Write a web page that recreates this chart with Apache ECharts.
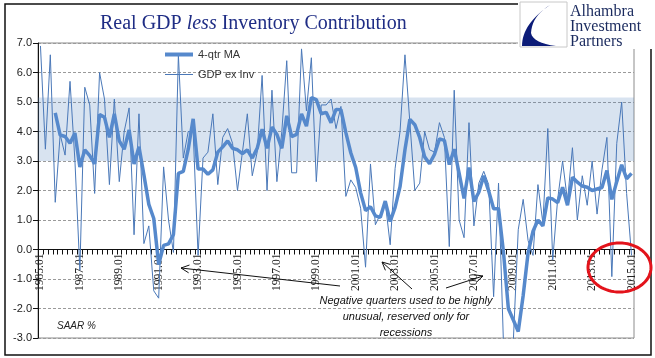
<!DOCTYPE html>
<html><head><meta charset="utf-8">
<script src="https://cdn.jsdelivr.net/npm/echarts@6/dist/echarts.min.js"></script>
<style>html,body{margin:0;padding:0;background:#fff}#c{width:655px;height:358px}</style>
</head><body><div id="c"></div>
<script>
// Quarterly categories 1985.01 ... 2015.01
const categories = [];
for (let y = 1985; y <= 2015; y++) {
  for (const m of ['01', '04', '07', '10']) {
    if (y === 2015 && m !== '01') break;
    categories.push(y + '.' + m);
  }
}
const gdpExInv = [
  6.9, 3.4, 6.6, 1.6, 3.9, 3.2, 5.7, 3.0, -0.7, 5.5,
  4.9, 1.9, 6.0, 5.1, 2.2, 5.1, 2.3, 4.0, 4.8, 0.5,
  4.6, 0.2, 0.8, -1.4, -1.65, 2.8, 1.0, -0.1, 6.6, 3.1,
  4.0, 4.0, -0.2, 3.1, 3.3, 4.6, 2.2, 3.8, 4.1, 3.6,
  2.0, 3.3, 4.6, 2.5, 3.3, 5.9, 2.0, 5.4, 2.3, 4.0,
  6.4, 2.6, 2.6, 6.8, 4.7, 6.5, 2.3, 4.9, 4.9, 5.1,
  4.1, 4.85, 1.8, 2.36, 2.1, 1.4, -0.6, 2.9, 0.84, 1.2,
  1.6, 0.16, 2.75, 4.0, 6.6, 4.3, 2.0, 2.25, 4.0, 3.38,
  3.3, 4.3, 3.8, 0.1, 5.4, 1.0, 0.4, 4.3, 0.8, 2.25,
  2.65, 2.2, -1.6, 2.25, -3.2, -5.5, -3.1, 0.67, 1.7, 0.3,
  -0.2, 2.2, 0.9, 4.1, -0.35, 1.7, 3.0, 1.65, 3.45, 1.0,
  2.5, 1.5, 3.0, 1.2, 2.7, 3.8, -0.92, 3.6, 5.0, 1.9,
  -0.2
];
const ma4qtr = [
  null, null, null, 4.63, 3.88, 3.83, 3.6, 3.95, 2.8, 3.38,
  3.18, 2.9, 4.58, 4.48, 3.8, 4.6, 3.68, 3.4, 4.05, 2.9,
  3.48, 2.53, 1.53, 1.05, -0.51, 0.14, 0.19, 0.51, 2.58, 2.65,
  3.4, 4.43, 2.73, 2.73, 2.55, 2.7, 3.3, 3.48, 3.68, 3.43,
  3.38, 3.25, 3.38, 3.1, 3.43, 4.08, 3.43, 4.15, 3.9, 3.43,
  4.53, 3.83, 3.9, 4.6, 4.18, 5.15, 5.08, 4.6, 4.65, 4.3,
  4.75, 4.74, 3.96, 3.28, 2.78, 1.92, 1.32, 1.45, 1.14, 1.09,
  1.64, 0.95, 1.43, 2.13, 3.38, 4.41, 4.23, 3.79, 3.14, 2.91,
  3.23, 3.75, 3.7, 2.88, 3.4, 2.58, 1.73, 2.78, 1.63, 1.94,
  2.5, 1.98, 1.38, 1.38, -0.09, -2.01, -2.39, -2.78, -1.56, -0.11,
  0.62, 1.0, 0.8, 1.75, 1.71, 1.59, 2.11, 1.5, 2.45, 2.28,
  2.15, 2.11, 2.0, 2.05, 2.1, 2.68, 1.7, 2.3, 2.87, 2.4,
  2.58
];
const bandRange = [3.0, 5.15];
const yMin = -3, yMax = 7, yStep = 1;
const noteLines = ['Negative quarters used to be highly', 'unusual, reserved only for', 'recessions'];

function arrow(x1, y1, x2, y2) {
  const a = Math.atan2(y2 - y1, x2 - x1), L = 9, s = 0.45;
  return [
    { type: 'line', z: 60, shape: { x1, y1, x2, y2 }, style: { stroke: '#111', lineWidth: 1 } },
    { type: 'polyline', z: 60, shape: { points: [
      [x2 - L * Math.cos(a - s), y2 - L * Math.sin(a - s)], [x2, y2],
      [x2 - L * Math.cos(a + s), y2 - L * Math.sin(a + s)]] },
      style: { stroke: '#111', lineWidth: 1, fill: null } }
  ];
}
function ellipsePts(cx, cy, rx, ry) {
  const p = [];
  for (let k = 0; k < 72; k++) { const t = k / 72 * Math.PI * 2; p.push([cx + rx * Math.cos(t), cy + ry * Math.sin(t)]); }
  return p;
}
function quad(p0, c, p1, n) {
  const out = [];
  for (let k = 0; k <= n; k++) {
    const t = k / n, u = 1 - t;
    out.push([u * u * p0[0] + 2 * u * t * c[0] + t * t * p1[0], u * u * p0[1] + 2 * u * t * c[1] + t * t * p1[1]]);
  }
  return out;
}
const swoosh = [].concat(
  quad([550, 5], [522, 24], [522, 46], 16),
  [[556, 46]],
  quad([556, 46], [533, 43], [531, 33], 8),
  quad([531, 33], [532, 16], [550, 5], 10)
);

const gridTop = 43, gridBottom = 20, H = 358;
const plotH = H - gridTop - gridBottom;
const zeroOffset = -plotH * (0 - yMin) / (yMax - yMin);

const chart = echarts.init(document.getElementById('c'));
const serif = "'Liberation Serif', 'Times New Roman', serif";
const sans = "'Liberation Sans', Arial, sans-serif";
const legendText = { fontFamily: sans, fontSize: 11, color: '#333' };
chart.setOption({
  animation: false,
  backgroundColor: '#fff',
  title: {
    text: '{a|Real GDP }{b|less}{a| Inventory Contribution}',
    left: 95, top: 9,
    textStyle: { fontWeight: 'normal', rich: {
      a: { fontFamily: serif, fontSize: 20, color: '#1f2d85', fontWeight: 'normal' },
      b: { fontFamily: serif, fontSize: 20, color: '#1f2d85', fontStyle: 'italic', fontWeight: 'normal' }
    } }
  },
  legend: [
    { left: 160, top: 44, itemWidth: 28, itemHeight: 4, itemGap: 5, icon: 'rect', textStyle: legendText, data: ['4-qtr MA'] },
    { left: 160, top: 64, itemWidth: 28, itemHeight: 1, itemGap: 5, icon: 'rect', textStyle: legendText, data: ['GDP ex Inv'] }
  ],
  grid: { left: 38, right: 21, top: gridTop, bottom: gridBottom, containLabel: false, outerBoundsMode: 'none',
    show: true, borderColor: '#8c8c8c', borderWidth: 1, backgroundColor: 'transparent' },
  xAxis: {
    type: 'category', data: categories, boundaryGap: true, position: 'bottom', offset: zeroOffset,
    axisLine: { onZero: false, lineStyle: { color: '#111', width: 1 } },
    axisTick: { show: true, interval: 0, length: 5, lineStyle: { color: '#111' } },
    axisLabel: { interval: 7, rotate: 90, margin: 4, fontFamily: serif, fontSize: 11.5, color: '#222' },
    splitLine: { show: false }
  },
  yAxis: {
    type: 'value', min: yMin, max: yMax, interval: yStep,
    axisLine: { show: true, lineStyle: { color: '#111' } },
    axisTick: { show: true, length: 5, lineStyle: { color: '#111' } },
    axisLabel: { formatter: v => v.toFixed(1), fontFamily: sans, fontSize: 11, color: '#222', margin: 6 },
    splitLine: { show: true, lineStyle: { color: '#9a9a9a', type: [3, 2], width: 1 } }
  },
  series: [
    {
      name: 'GDP ex Inv', type: 'line', data: gdpExInv, symbol: 'none', z: 2,
      lineStyle: { color: '#4a78b8', width: 1 }, itemStyle: { color: '#4a78b8' },
      markArea: {
        silent: true,
        itemStyle: { color: 'rgba(79,129,189,0.225)' },
        data: [[{ yAxis: bandRange[0] }, { yAxis: bandRange[1] }]]
      }
    },
    {
      name: '4-qtr MA', type: 'line', data: ma4qtr, symbol: 'none', z: 3,
      lineStyle: { color: '#5689cc', width: 3.5 }, itemStyle: { color: '#5689cc' }
    }
  ],
  graphic: [
    { type: 'rect', z: 40, shape: { x: 5, y: 4, width: 646, height: 351 }, style: { fill: null, stroke: '#111', lineWidth: 1.5 } },
    { type: 'rect', z: 50, shape: { x: 518, y: 0, width: 137, height: 49 }, style: { fill: '#fff' } },
    { type: 'rect', z: 51, shape: { x: 520, y: 2, width: 47, height: 45 }, style: { fill: '#fff', stroke: '#c8c8c8', lineWidth: 1 } },
    { type: 'polygon', z: 52, shape: { points: swoosh }, style: { fill: '#0c1c78' } },
    { type: 'text', z: 52, style: { x: 570, y: 4, text: 'Alhambra', font: "16px 'Liberation Serif', serif", fill: '#1a2a5e' } },
    { type: 'text', z: 52, style: { x: 570, y: 19, text: 'Investment', font: "16px 'Liberation Serif', serif", fill: '#1a2a5e' } },
    { type: 'text', z: 52, style: { x: 570, y: 34, text: 'Partners', font: "16px 'Liberation Serif', serif", fill: '#1a2a5e' } },
    { type: 'text', z: 60, style: { x: 57, y: 321, text: 'SAAR %', font: "italic 10px 'Liberation Sans', sans-serif", fill: '#222' } },
    { type: 'text', z: 60, style: { x: 406, y: 295, text: noteLines[0], align: 'center', font: "italic 11px 'Liberation Sans', sans-serif", fill: '#111' } },
    { type: 'text', z: 60, style: { x: 406, y: 311, text: noteLines[1], align: 'center', font: "italic 11px 'Liberation Sans', sans-serif", fill: '#111' } },
    { type: 'text', z: 60, style: { x: 406, y: 327, text: noteLines[2], align: 'center', font: "italic 11px 'Liberation Sans', sans-serif", fill: '#111' } },
    ...arrow(340, 286, 181, 268),
    ...arrow(412, 289, 382, 262),
    ...arrow(446, 288, 483, 276),
    { type: 'polygon', z: 70, shape: { points: ellipsePts(619.5, 267.5, 31.5, 24.5) }, style: { fill: null, stroke: '#e3131b', lineWidth: 3 } }
  ]
});
</script></body></html>
